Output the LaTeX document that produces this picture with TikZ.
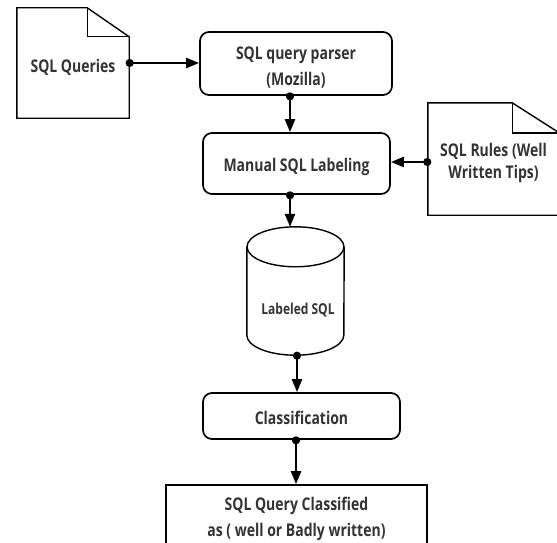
\documentclass[tikz,border=0pt]{standalone}
\usepackage{fontspec}
\setmainfont{Open Sans}[FakeStretch=0.8]
\usetikzlibrary{arrows.meta,calc}
\definecolor{txtgray}{HTML}{333333}
\newcommand\lowr[2]{\raisebox{-#1pt}[\height][\depth]{#2}}
\begin{document}
\begin{tikzpicture}[x=1pt,y=-1pt,
  lbl/.style={text=txtgray, font=\fontsize{17.5}{26}\selectfont\bfseries, align=center, inner sep=0pt},
  rbox/.style={lbl, draw, line width=1.7pt, rounded corners=9pt},
  sbox/.style={lbl, draw, line width=1.7pt},
  shapenode/.style={inner sep=0pt},
  outline/.style={line width=1.4pt, line join=miter},
  flow/.style={line width=2.4pt, {Circle[length=8pt]}-{Triangle[length=13pt,width=10pt]}, shorten <=-3.5pt}]
\useasboundingbox (0,0) rectangle (557,543);

% process boxes
\node[rbox, minimum width=192pt, minimum height=63pt] (parser) at (296,63.5) {\lowr{4}{SQL query parser}\\\lowr{4}{(Mozilla)}};
\node[rbox, minimum width=187pt, minimum height=61pt] (manual) at (296.5,163.5) {\lowr{3}{Manual SQL Labeling}};
\node[rbox, minimum width=197pt, minimum height=46pt] (class) at (301.5,416) {\lowr{2}{Classification}};
\node[sbox, minimum width=261pt, minimum height=66pt] (final) at (296.5,518) {\lowr{1}{SQL Query Classified}\\\lowr{1}{as ( well or Badly written)}};

% SQL Queries document
\node[lbl, shapenode, minimum width=112pt, minimum height=110pt] (sq) at (73,63) {\lowr{4}{SQL Queries}};
\draw[outline] (sq.south west) -- (sq.north west) -- ([xshift=-42pt]sq.north east)
  -- ([yshift=-29pt]sq.north east) -- (sq.south east) -- cycle;
\draw[outline] ([xshift=-42pt]sq.north east) |- ([yshift=-29pt]sq.north east);

% SQL Rules document
\node[lbl, shapenode, font=\fontsize{17.5}{22}\selectfont\bfseries, minimum width=131pt, minimum height=112pt] (rules) at (493.5,159) {\lowr{3.5}{SQL Rules (Well}\\\lowr{3.5}{Written Tips)}};
\draw[outline] (rules.south west) -- (rules.north west) -- ([xshift=-47pt]rules.north east)
  -- ([yshift=-30pt]rules.north east) -- (rules.south east) -- cycle;
\draw[outline] ([xshift=-47pt]rules.north east) |- ([yshift=-30pt]rules.north east);

% Labeled SQL database
\node[shapenode, minimum width=97pt, minimum height=128pt] (db) at (295.5,291) {};
\node[lbl, font=\fontsize{15}{20}\selectfont\bfseries] (dbtxt) at (298,310) {Labeled SQL};
\draw[outline] ([yshift=-20pt]db.north) ellipse [x radius=48.5pt, y radius=20pt];
\draw[outline] ([yshift=-20pt]db.north west) -- ([yshift=20pt]db.south west)
  arc[start angle=180, end angle=360, x radius=48.5pt, y radius=20pt]
  -- ([yshift=-20pt]db.north east);

% connectors
\draw[flow] (sq.east) -- (sq.east -| parser.west);
\draw[flow] ([xshift=-6pt]parser.south) -- ([xshift=-6pt]parser.south |- manual.north);
\draw[flow] ([yshift=-3pt]rules.west) -- ([yshift=-3pt]rules.west -| manual.east);
\draw[flow] ([xshift=-6.5pt]manual.south) -- ([xshift=-6.5pt]manual.south |- db.north);
\draw[flow] ([xshift=1.5pt]db.south) -- ([xshift=1.5pt]db.south |- class.north);
\draw[flow] ([xshift=-5.5pt]class.south) -- ([xshift=-5.5pt]class.south |- final.north);
\end{tikzpicture}
\end{document}
